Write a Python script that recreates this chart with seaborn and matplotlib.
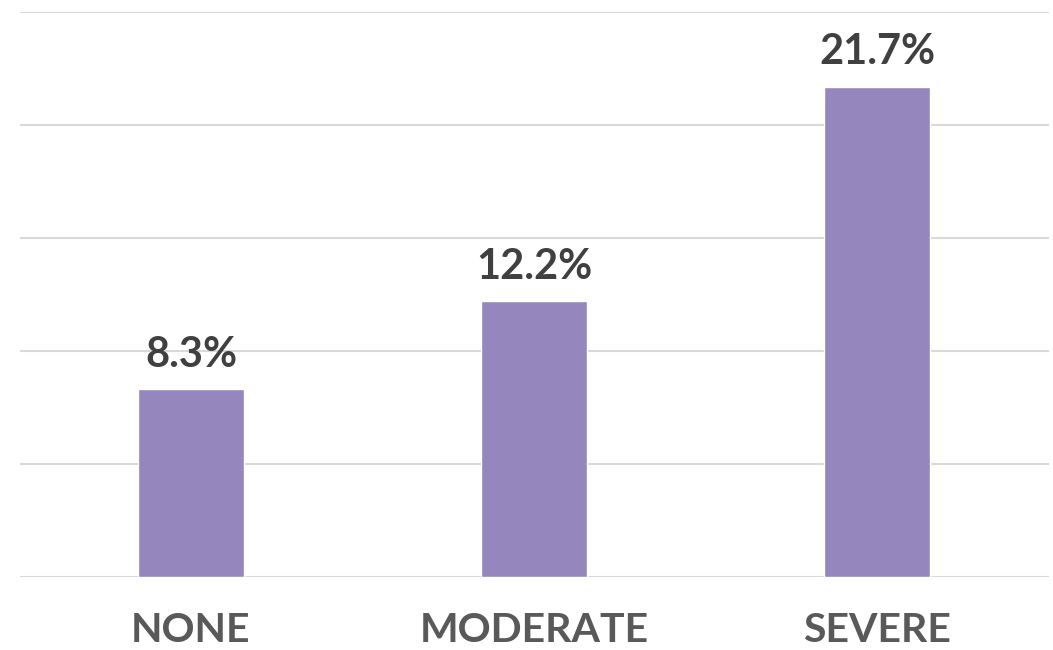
import matplotlib
matplotlib.use("Agg")
import matplotlib.pyplot as plt
import seaborn as sns
import pandas as pd

categories = ["NONE", "MODERATE", "SEVERE"]
values = [8.3, 12.2, 21.7]
value_labels = ["8.3%", "12.2%", "21.7%"]

df = pd.DataFrame({"category": categories, "value": values})

sns.set_theme(style="white")
plt.rcParams["font.family"] = ["Lato", "DejaVu Sans"]

fig = plt.figure(figsize=(10.53, 6.5), dpi=100)
ax = fig.add_axes([19.5 / 1053, 73 / 650, 1029 / 1053, 565 / 650])

sns.barplot(data=df, x="category", y="value", color="#9587BD", width=0.31,
            saturation=1, ax=ax, zorder=3)

ax.set_ylim(0, 25)
ax.set_xlim(-0.5, 2.5)
ax.set_yticks([0, 5, 10, 15, 20, 25])
ax.yaxis.grid(True, color="#D9D9D9", linewidth=1.5, zorder=0)
ax.set_axisbelow(True)
ax.tick_params(axis="y", left=False, labelleft=False)
ax.tick_params(axis="x", bottom=False, pad=19, labelsize=29.5, labelcolor="#595959")
for lbl in ax.get_xticklabels():
    lbl.set_fontweight("bold")
for s in ax.spines.values():
    s.set_visible(False)
ax.set_xlabel("")
ax.set_ylabel("")

for i, (v, t) in enumerate(zip(values, value_labels)):
    ax.annotate(t, (i, v), xytext=(0, 11), textcoords="offset points",
                ha="center", va="bottom", fontsize=30, fontweight="bold",
                color="#404040")

fig.savefig("out.png", dpi=100)
